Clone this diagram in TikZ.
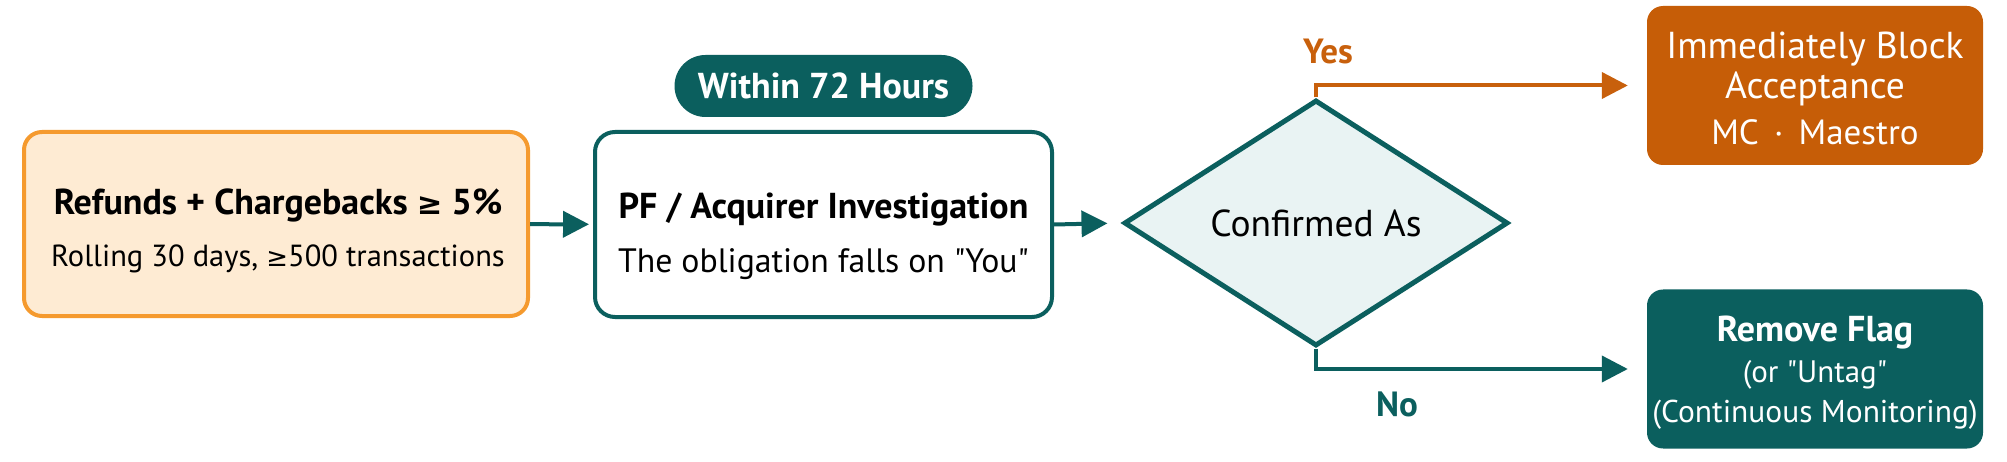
\documentclass[tikz,border=0pt]{standalone}
\usepackage{fontspec}
\setmainfont{PT Sans}
\newfontfamily\symf{DejaVu Sans}[Scale=0.85]
\usetikzlibrary{shapes.geometric,arrows.meta}
\definecolor{tealc}{HTML}{0B5F5E}
\definecolor{orline}{HTML}{F59A2E}
\definecolor{orfill}{HTML}{FEEBD3}
\definecolor{orbox}{HTML}{C65D07}
\definecolor{orarrow}{HTML}{C8600C}
\definecolor{dmfill}{HTML}{E9F3F3}
\newcommand{\fs}[1]{\fontsize{#1}{#1}\selectfont}
\newcommand{\gesym}{{\symf ≥}}
\begin{document}
\begin{tikzpicture}[x=1pt,y=-1pt,
  boxa/.style={draw=orline,fill=orfill,line width=4pt,rounded corners=18pt,
    minimum width=504pt,minimum height=184pt,inner sep=0pt},
  boxb/.style={draw=tealc,fill=white,line width=4pt,rounded corners=20pt,
    minimum width=457pt,minimum height=185pt,inner sep=0pt},
  boxc/.style={fill=#1,rounded corners=16pt,minimum width=336pt,
    minimum height=159pt,inner sep=0pt},
  pill/.style={fill=tealc,rounded corners=31pt,minimum width=298pt,
    minimum height=62pt,inner sep=0pt,text=white},
  dec/.style={diamond,draw=tealc,fill=dmfill,line width=5pt,aspect=1.56,
    minimum width=384pt,minimum height=246pt,inner sep=0pt},
  arr/.style={draw=#1,line width=4pt,-{Triangle[length=26pt,width=26pt]}},
  lbl/.style={font=\fs{35}\bfseries,text=#1},
  txt/.style={anchor=mid,inner sep=0pt,text=#1},
  txt/.default=black
]
\useasboundingbox[fill=white] (0,0) rectangle (2007,462);

\node[boxa] (b1) at (276,224) {};
\node[txt] (b1a) at (278,212) {\fs{36}\bfseries Refunds + Chargebacks \gesym{} 5\%};
\node[txt] (b1b) at (278,264) {\fs{30.5}Rolling 30 days, \gesym500 transactions};

\node[boxb] (b2) at (823.5,224.5) {};
\node[txt] (b2a) at (823.5,216.5) {\fs{36}\bfseries PF / Acquirer Investigation};
\node[txt] (b2b) at (823.5,270) {\fs{33.8}The obligation falls on \textquotedbl You\textquotedbl};

\node[pill] (p) at (823.5,86) {\fs{36}\bfseries Within 72 Hours};
\node[dec] (d) at (1316,223) {\fs{37.5}Confirmed As};

\node[boxc=orbox] (b3) at (1815,85.5) {};
\node[txt=white] (b3a) at (1815,56) {\fs{37.5}Immediately Block};
\node[txt=white] (b3b) at (1815,96) {\fs{37.5}Acceptance};
\node[txt=white] (b3c) at (1815,142) {\fs{35}MC \,·\, Maestro};

\node[boxc=tealc] (b4) at (1815,369) {};
\node[txt=white] (b4a) at (1815,339) {\fs{36}\bfseries Remove Flag};
\node[txt=white] (b4b) at (1815,380) {\fs{31}(or \textquotedbl Untag\textquotedbl};
\node[txt=white] (b4c) at (1815,420) {\fs{31.5}(Continuous Monitoring)};

\draw[arr=tealc,shorten >=4pt] (b1) -- (b2);
\draw[arr=tealc,shorten >=14pt] (b2.east) -- (d.west);
\draw[arr=orarrow,shorten >=19pt] (d.north) |- (b3.west);
\draw[arr=tealc,shorten >=19pt] (d.south) |- (b4.west);

\node[lbl=orarrow] (yes) at (1328,51) {Yes};
\node[lbl=tealc] (no) at (1397,404) {No};
\end{tikzpicture}
\end{document}
